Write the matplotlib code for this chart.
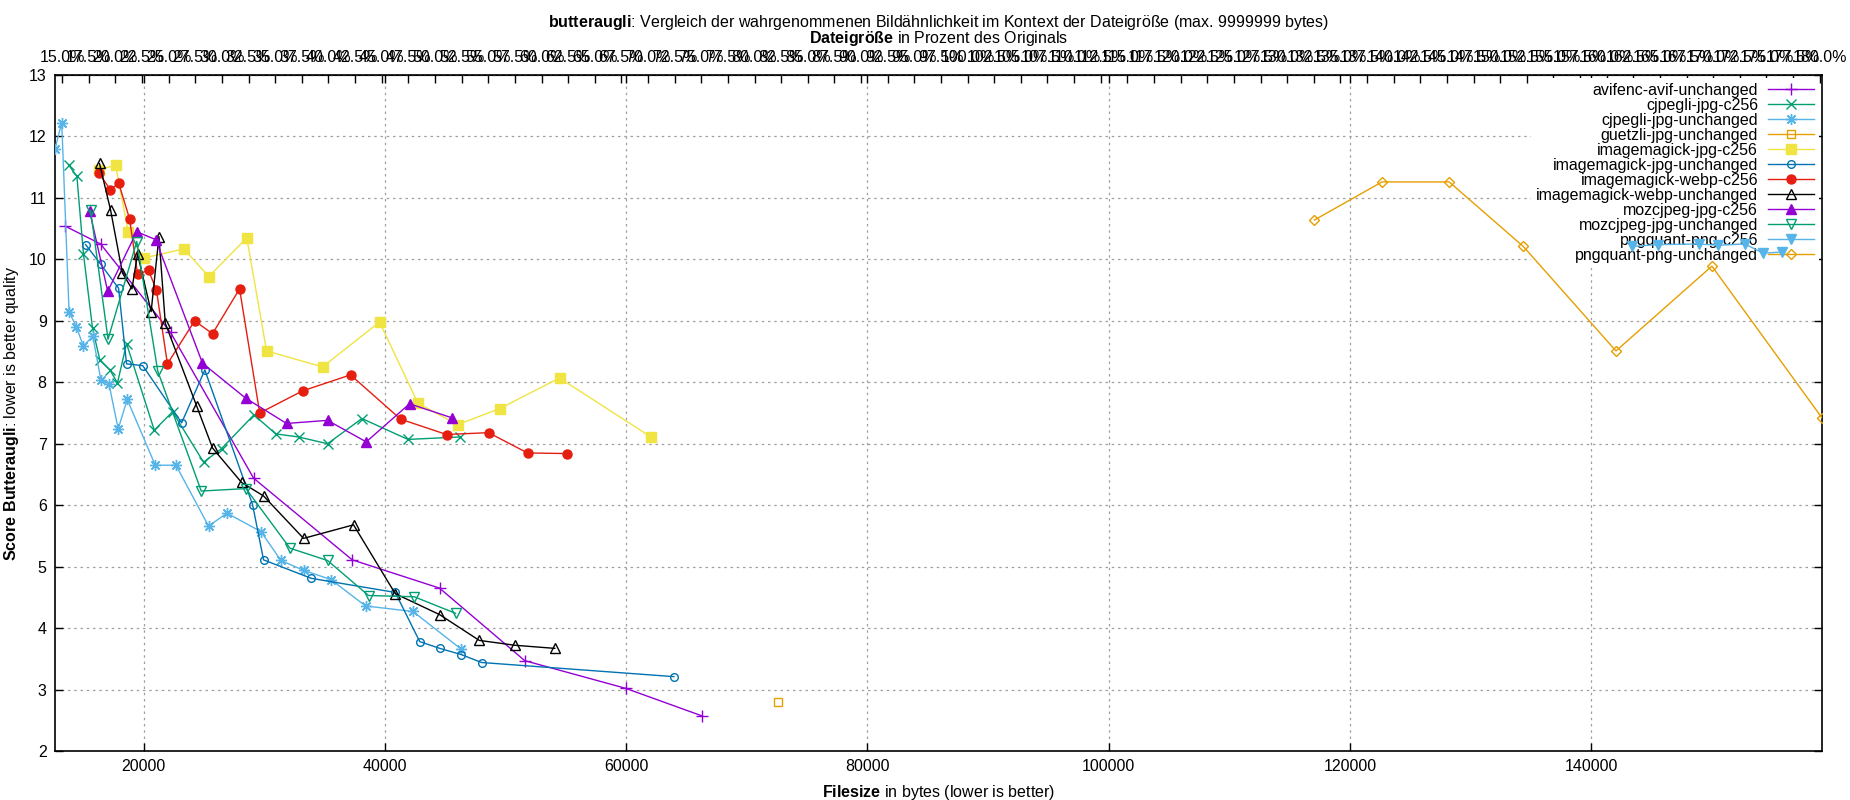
import numpy as np
import matplotlib
matplotlib.use("Agg")
import matplotlib.pyplot as plt
from matplotlib.ticker import FixedLocator, FuncFormatter

plt.rcParams['font.family'] = ['Liberation Sans', 'DejaVu Sans']
plt.rcParams['mathtext.fontset'] = 'custom'
plt.rcParams['mathtext.rm'] = 'Liberation Sans'
plt.rcParams['mathtext.bf'] = 'Liberation Sans:bold'
plt.rcParams['font.size'] = 11.5

# size of the original file (bytes), used for the percentage axis on top
orig_size = 88300

# --- data (filesize in bytes, butteraugli score) ---
avif_unch_x = [13500, 16430, 22230, 29110, 37290, 44530, 51590, 59950, 66300]
avif_unch_y = [10.54, 10.25, 8.81, 6.44, 5.11, 4.65, 3.47, 3.02, 2.57]

cjpegli_c256_x = [13770, 14465, 15010, 15760, 16370, 17200, 17830, 18580, 20880, 22395,
                  24965, 26457, 29140, 30950, 32838, 35243, 38093, 41906, 46183]
cjpegli_c256_y = [11.54, 11.35, 10.09, 8.88, 8.36, 8.20, 7.99, 8.63, 7.22, 7.52,
                  6.70, 6.92, 7.47, 7.16, 7.11, 7.00, 7.41, 7.07, 7.11]

cjpegli_unch_x = [12650, 13210, 13815, 14422, 15004, 15786, 16450, 17116, 17889, 18637,
                  20961, 22677, 25379, 26904, 29722, 31380, 33254, 35525, 38393, 42322, 46308]
cjpegli_unch_y = [11.80, 12.22, 9.15, 8.90, 8.59, 8.75, 8.04, 7.98, 7.24, 7.72,
                  6.65, 6.65, 5.66, 5.87, 5.57, 5.10, 4.94, 4.79, 4.36, 4.27, 3.66]

guetzli_unch_x = [72565]
guetzli_unch_y = [2.80]

im_jpg_c256_x = [16300, 17670, 18720, 19992, 23330, 25400, 28550, 30187, 34829, 39553,
                 42735, 46018, 49499, 54472, 62047]
im_jpg_c256_y = [11.46, 11.53, 10.45, 10.02, 10.17, 9.72, 10.35, 8.51, 8.25, 8.98,
                 7.66, 7.31, 7.57, 8.07, 7.11]

im_jpg_unch_x = [15190, 16440, 17920, 18580, 19925, 23150, 25070, 29026, 29938, 33890,
                 40854, 42885, 44542, 46308, 48015, 63955]
im_jpg_unch_y = [10.24, 9.92, 9.53, 8.30, 8.27, 7.34, 8.20, 6.01, 5.11, 4.81,
                 4.58, 3.78, 3.67, 3.57, 3.44, 3.21]

im_webp_c256_x = [16270, 17250, 17930, 18830, 19494, 20406, 21058, 21970, 24225, 25707,
                  27948, 29620, 33170, 37149, 41293, 45106, 48587, 51820, 55085]
im_webp_c256_y = [11.41, 11.13, 11.24, 10.66, 9.76, 9.82, 9.50, 8.30, 9.00, 8.79,
                  9.52, 7.50, 7.86, 8.12, 7.40, 7.15, 7.18, 6.85, 6.84]

im_webp_unch_x = [16340, 17260, 18236, 19028, 19494, 20618, 21266, 21793, 24400, 25710,
                  28114, 29938, 33254, 37398, 40854, 44526, 47816, 50800, 54083]
im_webp_unch_y = [11.56, 10.80, 9.78, 9.52, 10.09, 9.15, 10.37, 8.96, 7.61, 6.93,
                  6.37, 6.15, 5.46, 5.68, 4.56, 4.22, 3.80, 3.72, 3.67]

moz_c256_x = [15525, 17020, 19428, 21004, 24877, 28462, 31845, 35243, 38450, 42039, 45578]
moz_c256_y = [10.78, 9.48, 10.45, 10.32, 8.31, 7.74, 7.33, 7.38, 7.03, 7.65, 7.42]

moz_unch_x = [15600, 17045, 19428, 21170, 24774, 28479, 32126, 35243, 38642, 42430, 45855]
moz_unch_y = [10.80, 8.70, 10.29, 8.18, 6.23, 6.27, 5.30, 5.10, 4.53, 4.51, 4.24]

png_c256_x = [143343, 145512, 148916, 150542, 152741, 154247, 155813]
png_c256_y = [10.21, 10.24, 10.25, 10.23, 10.25, 10.10, 10.12]

png_unch_x = [117048, 122651, 128223, 134367, 142048, 150000, 159127]
png_unch_y = [10.64, 11.26, 11.26, 10.21, 8.51, 9.89, 7.42]

labels = ["avifenc-avif-unchanged", "cjpegli-jpg-c256", "cjpegli-jpg-unchanged",
          "guetzli-jpg-unchanged", "imagemagick-jpg-c256", "imagemagick-jpg-unchanged",
          "imagemagick-webp-c256", "imagemagick-webp-unchanged", "mozcjpeg-jpg-c256",
          "mozcjpeg-jpg-unchanged", "pngquant-png-c256", "pngquant-png-unchanged"]
series = [(avif_unch_x, avif_unch_y), (cjpegli_c256_x, cjpegli_c256_y),
          (cjpegli_unch_x, cjpegli_unch_y), (guetzli_unch_x, guetzli_unch_y),
          (im_jpg_c256_x, im_jpg_c256_y), (im_jpg_unch_x, im_jpg_unch_y),
          (im_webp_c256_x, im_webp_c256_y), (im_webp_unch_x, im_webp_unch_y),
          (moz_c256_x, moz_c256_y), (moz_unch_x, moz_unch_y),
          (png_c256_x, png_c256_y), (png_unch_x, png_unch_y)]

# gnuplot-like colour cycle and point types
colors = ['#9400d3', '#009e73', '#56b4e9', '#e69f00', '#f0e442', '#0072b2',
          '#e51e10', '#000000', '#9400d3', '#009e73', '#56b4e9', '#e69f00']
markers = ['+', 'x', (8, 2, 0), 's', 's', 'o', 'o', '^', '^', 'v', 'v', 'D']
filled = [True, True, True, False, True, False, True, False, True, False, True, False]
msizes = [8, 6.5, 8, 6, 7, 5.5, 6.5, 7.5, 7.5, 7.5, 7.5, 5]

fig = plt.figure(figsize=(18.5, 8), dpi=100)
ax = fig.add_axes([55/1850, 1-751/800, (1822-55)/1850, (751-75)/800])

for i, (xs, ys) in enumerate(series):
    ax.plot(xs, ys, color=colors[i], lw=1.0, marker=markers[i], ms=msizes[i],
            mec=colors[i], mew=1.0,
            mfc=colors[i] if filled[i] else 'none', label=labels[i], zorder=3)

all_x = [v for xs, _ in series for v in xs]
ax.set_xlim(min(all_x), max(all_x))
ax.set_ylim(2, 13)
ax.set_xticks(np.arange(20000, 140001, 20000))
ax.set_yticks(np.arange(2, 14, 1))
ax.set_axisbelow(True)
ax.grid(True, color='#a0a0a0', lw=0.9, linestyle=(0, (2, 3)), zorder=0)

ax.tick_params(which='both', direction='in', length=6, width=1, top=True, right=True,
               labelsize=11.5, pad=6)
ax.tick_params(axis='x', pad=6)
for s in ax.spines.values():
    s.set_linewidth(1.2)

sec = ax.secondary_xaxis('top', functions=(lambda x: x / orig_size * 100,
                                             lambda p: p * orig_size / 100))
pct_ticks = np.arange(15, 180.01, 2.5)
sec.xaxis.set_major_locator(FixedLocator(pct_ticks))
sec.xaxis.set_major_formatter(FuncFormatter(lambda v, p: "%.1f%%" % v))
sec.tick_params(direction='in', length=6, width=1, labelsize=11.5, pad=7)

ax.set_xlabel(r"$\bf{Filesize}$ in bytes (lower is better)", fontsize=11.5, labelpad=6)
ax.set_ylabel(r"$\bf{Score\ Butteraugli}$: lower is better quality", fontsize=11.5)
ax.yaxis.set_label_coords(-0.0192, 0.5)

cx = (55 + 1822) / 2 / 1850
fig.text(cx, 1 - 22/800, r"$\bf{butteraugli}$: Vergleich der wahrgenommenen Bildähnlichkeit "
         r"im Kontext der Dateigröße (max. 9999999 bytes)", ha='center', va='center',
         fontsize=11.5)
fig.text(cx, 1 - 38/800, r"$\bf{Dateigröße}$ in Prozent des Originals", ha='center',
         va='center', fontsize=11.5)

leg = ax.legend(loc='upper right', bbox_to_anchor=(1.0, 1.0), markerfirst=False,
                frameon=True, fancybox=False, edgecolor='none', facecolor='white',
                framealpha=1.0, fontsize=11.5, labelspacing=0.0, handlelength=2.9,
                handletextpad=0.6, borderpad=0.3, borderaxespad=0.2, numpoints=1)
leg.set_zorder(2)

fig.savefig("out.png", dpi=100)
